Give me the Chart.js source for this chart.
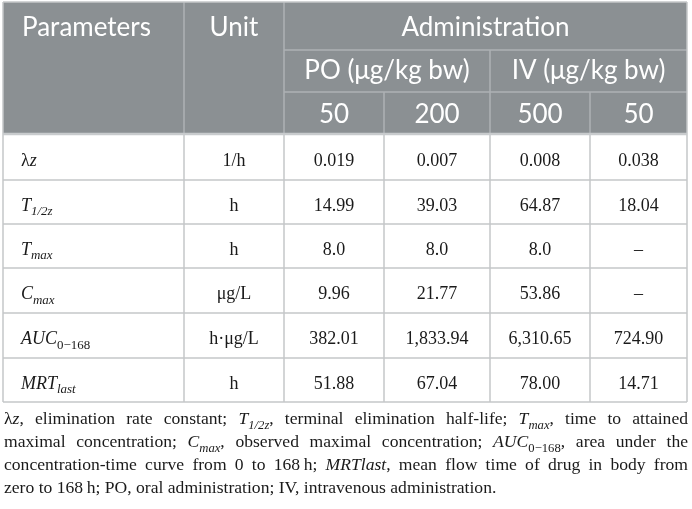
<!DOCTYPE html>
<html><head><meta charset="utf-8">
<script src="https://cdn.jsdelivr.net/npm/chart.js@4.4.1/dist/chart.umd.min.js"></script>
<style>html,body{margin:0;padding:0;background:#fff;}#wrap{width:692px;height:509px;position:relative;}</style>
</head><body><div id="wrap"><canvas id="c" width="692" height="509"></canvas></div>
<script>
// ---------- data ----------
const headerTop = ['Parameters', 'Unit', 'Administration'];
const routes = ['PO (μg/kg bw)', 'IV (μg/kg bw)'];
const doses = ['50', '200', '500', '50'];
// parameter symbols: [text, style] runs; n normal, i italic, si italic subscript, sn normal subscript
const parameters = [
  [['λ', 'n'], ['z', 'i']],
  [['T', 'i'], ['1/2z', 'si']],
  [['T', 'i'], ['max', 'si']],
  [['C', 'i'], ['max', 'si']],
  [['AUC', 'i'], ['0−168', 'sn']],
  [['MRT', 'i'], ['last', 'si']]
];
const units = ['1/h', 'h', 'h', 'μg/L', 'h·μg/L', 'h'];
const po50  = ['0.019', '14.99', '8.0', '9.96', '382.01', '51.88'];
const po200 = ['0.007', '39.03', '8.0', '21.77', '1,833.94', '67.04'];
const iv500 = ['0.008', '64.87', '8.0', '53.86', '6,310.65', '78.00'];
const iv50  = ['0.038', '18.04', '–', '–', '724.90', '14.71'];
const footnote = [
  [['λ', 'n'], ['z', 'i'], [', elimination rate constant; ', 'n'], ['T', 'i'], ['1/2z', 'si'], [', terminal elimination half-life; ', 'n'], ['T', 'i'], ['max', 'si'], [', time to attained', 'n']],
  [['maximal concentration; ', 'n'], ['C', 'i'], ['max', 'si'], [', observed maximal concentration; ', 'n'], ['AUC', 'i'], ['0−168', 'sn'], [', area under the', 'n']],
  [['concentration-time curve from 0 to 168\u2009h; ', 'n'], ['MRTlast', 'i'], [', mean flow time of drug in body from', 'n']],
  [['zero to 168\u2009h; PO, oral administration; IV, intravenous administration.', 'n']]
];

// ---------- layout / style ----------
const COLS = [3, 184, 284, 384, 490, 590, 687];
const ROWS = [2, 50, 92, 134, 180, 224, 268, 313, 358, 402];
const NOTE_X = [4, 688];
const NOTE_BASE = [424, 447, 470, 493];
const HEAD_BG = '#8b9093';
const HEAD_FG = '#ffffff';
const HEAD_LINE = '#aeb2b4';
const GRID = '#c4c7c9';
const SANS = 'Lato, "Open Sans", sans-serif';
const SERIF = '"Liberation Serif", "Times New Roman", serif';
const TEXT = '#1a1a1a';

function runFont(style, size, family) {
  const sub = style[0] === 's';
  const it = style.indexOf('i') >= 0;
  const sz = sub ? size * 0.72 : size;
  return { font: (it ? 'italic ' : '') + sz + 'px ' + family, dy: sub ? size * 0.26 : 0 };
}
function runsWidth(ctx, runs, size, family) {
  let w = 0;
  for (const [t, s] of runs) { ctx.font = runFont(s, size, family).font; w += ctx.measureText(t).width; }
  return w;
}
function drawRuns(ctx, runs, x, base, size, family, color) {
  ctx.fillStyle = color; ctx.textAlign = 'left'; ctx.textBaseline = 'alphabetic';
  for (const [t, s] of runs) {
    const f = runFont(s, size, family);
    ctx.font = f.font; ctx.fillText(t, x, base + f.dy);
    x += ctx.measureText(t).width;
  }
  return x;
}
function tokenize(runs) {
  const toks = [[]];
  for (const [t, s] of runs) {
    const parts = t.split(' ');
    parts.forEach((p, i) => {
      if (i > 0) toks.push([]);
      if (p.length) toks[toks.length - 1].push([p, s]);
    });
  }
  return toks.filter(t => t.length);
}

const tablePlugin = {
  id: 'table',
  afterDraw(chart) {
    const { ctx, scales: { x, y } } = chart;
    const X = v => x.getPixelForValue(v), Y = v => y.getPixelForValue(v);
    const cx = (a, b) => (X(COLS[a]) + X(COLS[b])) / 2;
    const cy = (a, b) => (Y(ROWS[a]) + Y(ROWS[b])) / 2;
    ctx.save();
    // header background
    ctx.fillStyle = HEAD_BG;
    ctx.fillRect(X(COLS[0]), Y(ROWS[0]), X(COLS[6]) - X(COLS[0]), Y(ROWS[3]) - Y(ROWS[0]));
    const line = (x1, y1, x2, y2) => { ctx.beginPath(); ctx.moveTo(X(x1), Y(y1)); ctx.lineTo(X(x2), Y(y2)); ctx.stroke(); };
    // header lines
    ctx.strokeStyle = HEAD_LINE; ctx.lineWidth = 1.5;
    line(COLS[1], ROWS[0], COLS[1], ROWS[3]);
    line(COLS[2], ROWS[0], COLS[2], ROWS[3]);
    line(COLS[2], ROWS[1], COLS[6], ROWS[1]);
    line(COLS[2], ROWS[2], COLS[6], ROWS[2]);
    line(COLS[4], ROWS[1], COLS[4], ROWS[3]);
    line(COLS[3], ROWS[2], COLS[3], ROWS[3]);
    line(COLS[5], ROWS[2], COLS[5], ROWS[3]);
    // body grid
    ctx.strokeStyle = GRID; ctx.lineWidth = 1.5;
    for (let r = 4; r < ROWS.length; r++) line(COLS[0], ROWS[r], COLS[6], ROWS[r]);
    for (let c = 1; c < COLS.length - 1; c++) line(COLS[c], ROWS[3], COLS[c], ROWS[9]);
    line(COLS[0], ROWS[0], COLS[0], ROWS[9]);
    line(COLS[6], ROWS[0], COLS[6], ROWS[9]);
    line(COLS[0], ROWS[0], COLS[6], ROWS[0]);
    ctx.lineWidth = 2.5; ctx.strokeStyle = '#c8cbcd';
    line(COLS[0], ROWS[3], COLS[6], ROWS[3]);
    // header text
    ctx.fillStyle = HEAD_FG; ctx.textBaseline = 'alphabetic';
    ctx.font = '400 26px ' + SANS;
    ctx.textAlign = 'left';
    ctx.fillText(headerTop[0], X(COLS[0]) + 19, cy(0, 1) + 10);
    ctx.textAlign = 'center';
    ctx.fillText(headerTop[1], cx(1, 2), cy(0, 1) + 10);
    ctx.fillText(headerTop[2], cx(2, 6), cy(0, 1) + 10);
    ctx.fillText(routes[0], cx(2, 4), cy(1, 2) + 8);
    ctx.fillText(routes[1], cx(4, 6), cy(1, 2) + 8);
    doses.forEach((d, i) => ctx.fillText(d, cx(2 + i, 3 + i), cy(2, 3) + 10));
    // body
    const BS = 18, bb = 8.5;
    const cols = [po50, po200, iv500, iv50];
    parameters.forEach((p, r) => {
      const base = cy(3 + r, 4 + r) + bb;
      drawRuns(ctx, p, X(COLS[0]) + 18, base, BS, SERIF, TEXT);
      ctx.font = BS + 'px ' + SERIF; ctx.textAlign = 'center'; ctx.fillStyle = TEXT;
      ctx.fillText(units[r], cx(1, 2), base);
      cols.forEach((arr, c) => ctx.fillText(arr[r], cx(2 + c, 3 + c), base));
    });
    // footnote (justified)
    const NS = 17.6;
    footnote.forEach((ln, i) => {
      const toks = tokenize(ln);
      const widths = toks.map(t => runsWidth(ctx, t, NS, SERIF));
      const total = widths.reduce((a, b) => a + b, 0);
      ctx.font = NS + 'px ' + SERIF;
      let gap = ctx.measureText(' ').width;
      if (i < footnote.length - 1) gap = (X(NOTE_X[1]) - X(NOTE_X[0]) - total) / (toks.length - 1);
      let xx = X(NOTE_X[0]);
      toks.forEach((t, k) => { drawRuns(ctx, t, xx, Y(NOTE_BASE[i]), NS, SERIF, TEXT); xx += widths[k] + gap; });
    });
    ctx.restore();
  }
};

new Chart(document.getElementById('c'), {
  type: 'scatter',
  data: { datasets: [{ data: [] }] },
  options: {
    responsive: false, animation: false, events: [],
    layout: { padding: 0 },
    plugins: { legend: { display: false }, tooltip: { enabled: false } },
    scales: {
      x: { type: 'linear', min: 0, max: 692, display: false },
      y: { type: 'linear', min: 0, max: 509, reverse: true, display: false }
    }
  },
  plugins: [tablePlugin]
});
</script></body></html>
